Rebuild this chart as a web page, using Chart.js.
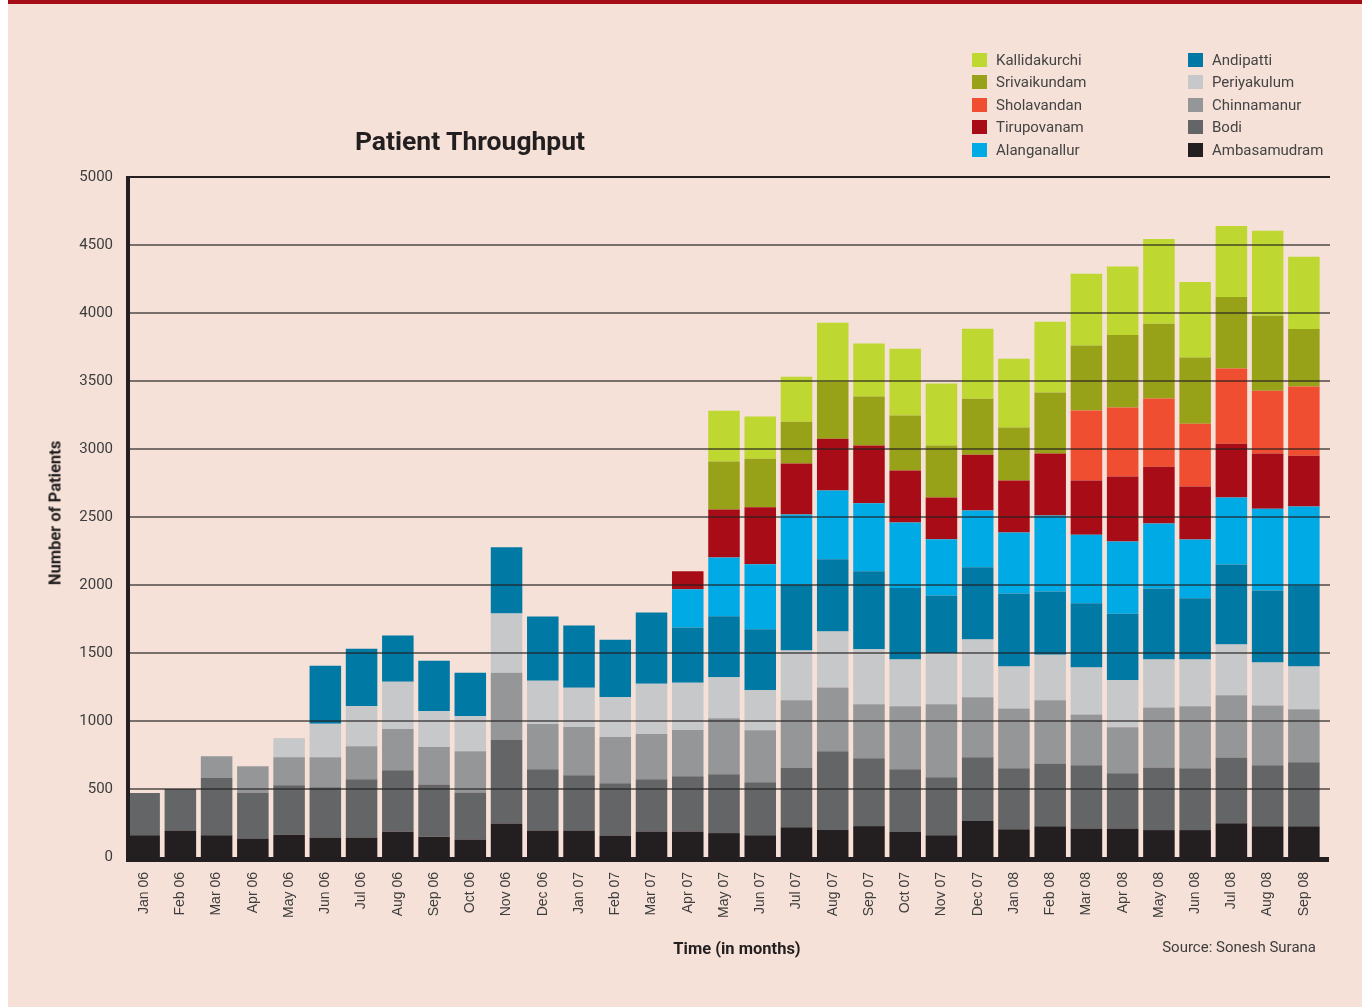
<!DOCTYPE html>
<html lang="en">
<head>
<meta charset="utf-8">
<title>Patient Throughput</title>
<script src="https://cdn.jsdelivr.net/npm/chart.js@4.4.1/dist/chart.umd.min.js"></script>
<style>
    html, body { margin: 0; padding: 0; background: #ffffff; }
    body { position: relative; width: 1362px; height: 1007px; overflow: hidden; font-family: Roboto, "Noto Sans", sans-serif; color: #231f20; }
    #sheet { position: absolute; left: 8px; top: 0; right: 0; bottom: 0; background: #f5e1d7; border-top: 4px solid #a50e16; }
    #throughputChart { position: absolute; left: 0; top: 0; }
    .title { position: absolute; left: 470px; top: 141px; transform: translate(-50%, -50%); font-size: 26.5px; line-height: 30px; font-weight: 700; white-space: nowrap; }
    .y-title { position: absolute; left: 55px; top: 513px; transform: translate(-50%, -50%) rotate(-90deg); font-size: 16.5px; font-weight: 700; white-space: nowrap; }
    .x-title { position: absolute; left: 737px; top: 948px; transform: translate(-50%, -50%); font-size: 16.5px; font-weight: 700; white-space: nowrap; }
    .source { position: absolute; right: 46px; top: 947px; transform: translateY(-50%); font-size: 15px; color: #3d3d3d; white-space: nowrap; }
    .legend-item { position: absolute; display: flex; align-items: center; transform: translateY(-50%); font-size: 15px; color: #444444; white-space: nowrap; }
    .legend-item span { display: inline-block; width: 15px; height: 14px; margin-right: 9px; }
</style>
</head>
<body>
<div id="sheet"></div>
<canvas id="throughputChart" width="1362" height="1007"></canvas>
<div class="title">Patient Throughput</div>
<div class="y-title">Number of Patients</div>
<div class="x-title">Time (in months)</div>
<div class="source">Source: Sonesh Surana</div>
<div id="legend"></div>
<script>
const months = [
    'Jan 06', 'Feb 06', 'Mar 06', 'Apr 06', 'May 06', 'Jun 06', 'Jul 06', 'Aug 06', 'Sep 06', 'Oct 06', 'Nov 06', 'Dec 06',
    'Jan 07', 'Feb 07', 'Mar 07', 'Apr 07', 'May 07', 'Jun 07', 'Jul 07', 'Aug 07', 'Sep 07', 'Oct 07', 'Nov 07', 'Dec 07',
    'Jan 08', 'Feb 08', 'Mar 08', 'Apr 08', 'May 08', 'Jun 08', 'Jul 08', 'Aug 08', 'Sep 08'
];

// patients per month for each centre (null = centre not open yet)
const ambasamudram = [160, 195, 160, 135, 165, 143, 143, 187, 150, 128, 246, 195,
    195, 158, 187, 187, 176, 160, 219, 198, 227, 184, 160, 264,
    204, 226, 210, 210, 198, 198, 248, 226, 226];
const bodi = [310, 305, 420, 340, 362, 369, 428, 451, 384, 347, 614, 450,
    406, 384, 384, 407, 433, 390, 435, 579, 499, 462, 427, 470,
    449, 461, 465, 405, 461, 455, 483, 449, 471];
const chinnamanur = [null, null, 160, 192, 207, 222, 244, 303, 274, 303, 495, 333,
    355, 340, 333, 339, 411, 382, 499, 470, 398, 462, 537, 441,
    439, 465, 373, 339, 440, 455, 459, 439, 389];
const periyakulum = [null, null, null, null, 140, 246, 296, 347, 266, 259, 436, 318,
    288, 295, 369, 348, 302, 294, 366, 411, 403, 344, 374, 424,
    308, 336, 346, 346, 354, 345, 373, 317, 314];
const andipatti = [null, null, null, null, null, 426, 421, 340, 369, 318, 487, 472,
    458, 421, 525, 406, 448, 448, 486, 531, 574, 526, 424, 532,
    537, 464, 471, 489, 521, 449, 587, 528, 593];
const alanganallur = [null, null, null, null, null, null, null, null, null, null, null, null,
    null, null, null, 281, 433, 478, 513, 505, 500, 481, 414, 416,
    449, 559, 505, 531, 478, 433, 493, 602, 584];
const tirupovanam = [null, null, null, null, null, null, null, null, null, null, null, null,
    null, null, null, 133, 352, 419, 376, 382, 424, 382, 307, 411,
    383, 455, 399, 477, 417, 390, 396, 405, 374];
const sholavandan = [null, null, null, null, null, null, null, null, null, null, null, null,
    null, null, null, null, null, null, null, null, null, null, null, null,
    null, null, 514, 508, 502, 461, 552, 462, 508];
const srivaikundam = [null, null, null, null, null, null, null, null, null, null, null, null,
    null, null, null, null, 353, 358, 307, 416, 361, 406, 382, 412,
    389, 449, 478, 534, 550, 487, 527, 552, 424];
const kallidakurchi = [null, null, null, null, null, null, null, null, null, null, null, null,
    null, null, null, null, 373, 310, 331, 436, 389, 491, 457, 515,
    505, 521, 527, 502, 624, 555, 521, 625, 530];

const yTicks = [0, 500, 1000, 1500, 2000, 2500, 3000, 3500, 4000, 4500, 5000];

document.addEventListener('DOMContentLoaded', () => {
    const ctx = document.getElementById('throughputChart').getContext('2d');
    const legendBox = document.getElementById('legend');
    const ink = '#231f20';
    const gridRight = 1330;

    // stacking order, bottom first
    const series = [
        { label: 'Ambasamudram', data: ambasamudram, color: '#231f20' },
        { label: 'Bodi', data: bodi, color: '#646567' },
        { label: 'Chinnamanur', data: chinnamanur, color: '#959698' },
        { label: 'Periyakulum', data: periyakulum, color: '#c7c8ca' },
        { label: 'Andipatti', data: andipatti, color: '#0079a5' },
        { label: 'Alanganallur', data: alanganallur, color: '#00abe5' },
        { label: 'Tirupovanam', data: tirupovanam, color: '#a80c17' },
        { label: 'Sholavandan', data: sholavandan, color: '#ef4e31' },
        { label: 'Srivaikundam', data: srivaikundam, color: '#98a218' },
        { label: 'Kallidakurchi', data: kallidakurchi, color: '#bfd731' }
    ];

    /** legend in two columns, top of the stack first
     */
    function buildLegend() {
        const columns = [series.slice(5).reverse(), series.slice(0, 5).reverse()];
        const lefts = [972, 1188];
        columns.forEach((column, c) => {
            column.forEach((s, r) => {
                const item = document.createElement('div');
                item.className = 'legend-item';
                item.style.left = lefts[c] + 'px';
                item.style.top = (59.5 + r * 22.5) + 'px';
                const swatch = document.createElement('span');
                swatch.style.background = s.color;
                item.appendChild(swatch);
                item.appendChild(document.createTextNode(s.label));
                legendBox.appendChild(item);
            });
        });
    }

    // gridlines over the bars plus the heavy axis lines
    const gridOverlay = {
        id: 'gridOverlay',
        afterDatasetsDraw(chart) {
            const { ctx: c, chartArea, scales: { y } } = chart;
            c.save();
            y.ticks.forEach(tick => {
                if (tick.value === 0) return;
                const py = y.getPixelForValue(tick.value);
                c.strokeStyle = tick.value === 5000 ? ink : 'rgba(35, 31, 32, 0.78)';
                c.lineWidth = tick.value === 5000 ? 2 : 1.6;
                c.beginPath();
                c.moveTo(chartArea.left, py);
                c.lineTo(gridRight, py);
                c.stroke();
            });
            c.fillStyle = ink;
            const top = y.getPixelForValue(5000) - 1;
            c.fillRect(chartArea.left, top, 4, chartArea.bottom + 5 - top);
            c.fillRect(chartArea.left, chartArea.bottom, gridRight - 1 - chartArea.left, 5);
            c.restore();
        }
    };

    buildLegend();

    new Chart(ctx, {
        type: 'bar',
        data: {
            labels: months,
            datasets: series.map(s => ({
                label: s.label,
                data: s.data,
                backgroundColor: s.color,
                borderWidth: 0,
                categoryPercentage: 1,
                barPercentage: 0.87
            }))
        },
        options: {
            responsive: false,
            animation: false,
            layout: {
                padding: { left: 0, top: 177, right: 40, bottom: 0 }
            },
            plugins: {
                legend: { display: false },
                title: { display: false },
                tooltip: { mode: 'index', intersect: false }
            },
            scales: {
                x: {
                    stacked: true,
                    grid: { display: false, drawTicks: false },
                    border: { display: false },
                    afterFit: scale => { scale.height = 150; },
                    ticks: {
                        autoSkip: false,
                        minRotation: 90,
                        maxRotation: 90,
                        padding: 15,
                        color: '#3d3d3d',
                        font: { family: '"Liberation Sans", Arial, sans-serif', size: 14 }
                    }
                },
                y: {
                    stacked: true,
                    min: 0,
                    max: 5000,
                    afterBuildTicks: scale => { scale.ticks = yTicks.map(v => ({ value: v })); },
                    grid: { display: false, drawTicks: false },
                    border: { display: false },
                    afterFit: scale => { scale.width = 126; },
                    ticks: {
                        padding: 13,
                        color: '#3d3d3d',
                        font: { family: 'Roboto, sans-serif', size: 15 },
                        callback: value => String(value)
                    }
                }
            }
        },
        plugins: [gridOverlay]
    });
});
</script>
</body>
</html>
